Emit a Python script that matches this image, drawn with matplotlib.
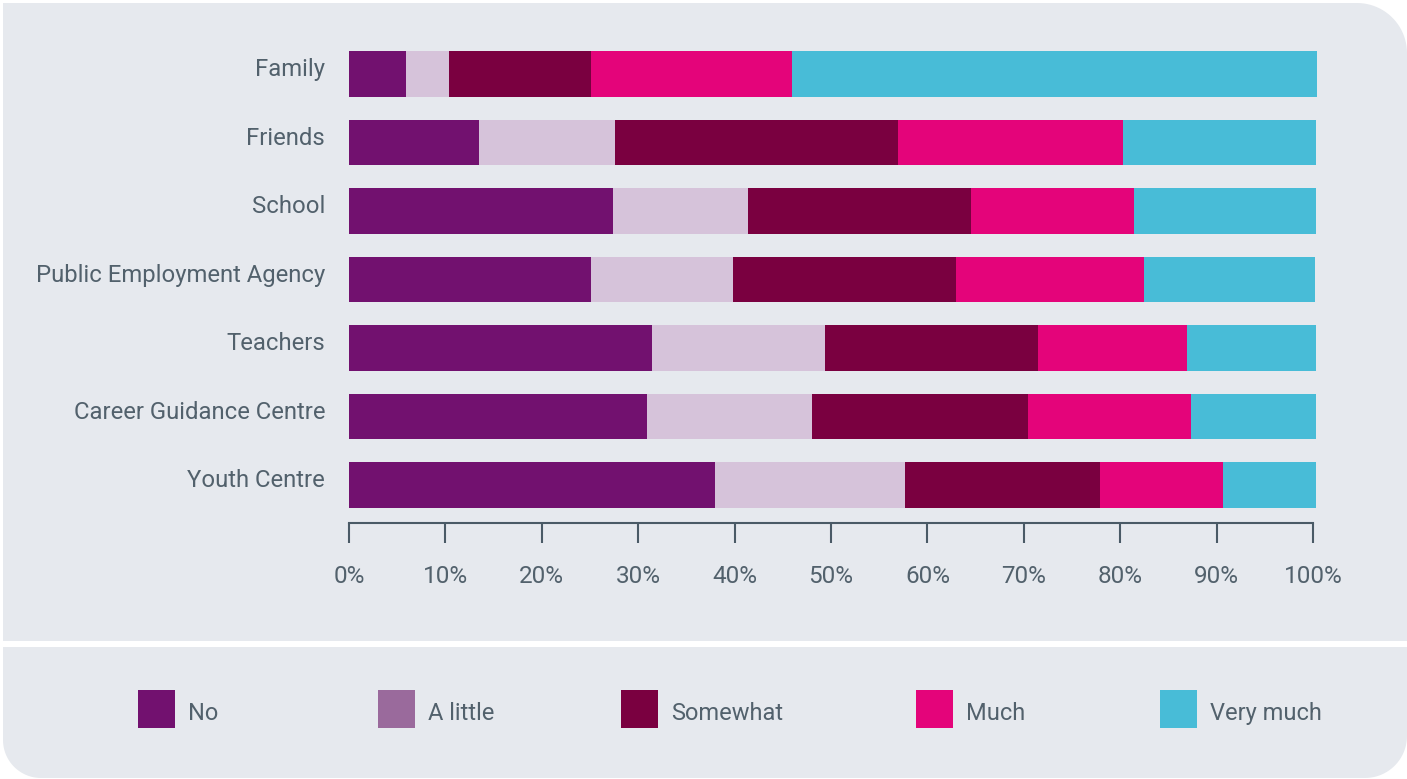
import numpy as np
import matplotlib
matplotlib.use("Agg")
import matplotlib.pyplot as plt
from matplotlib.path import Path
from matplotlib.patches import PathPatch, Rectangle
from matplotlib.transforms import ScaledTranslation

# Survey: how much each source helped with career decisions (% of respondents)
categories = ["Family", "Friends", "School", "Public Employment Agency",
              "Teachers", "Career Guidance Centre", "Youth Centre"]
responses = ["No", "A little", "Somewhat", "Much", "Very much"]

no = [5.9, 13.5, 27.4, 25.1, 31.4, 30.9, 38.0]
a_little = [4.5, 14.1, 14.0, 14.7, 18.0, 17.1, 19.7]
somewhat = [14.7, 29.4, 23.1, 23.2, 22.1, 22.4, 20.2]
much = [20.9, 23.3, 16.9, 19.5, 15.4, 16.9, 12.8]
very_much = [54.4, 20.0, 18.9, 17.7, 13.4, 13.0, 9.6]

xticks = [0, 10, 20, 30, 40, 50, 60, 70, 80, 90, 100]
xtick_labels = [f"{t}%" for t in xticks]

bar_colors = ["#72116F", "#D6C3DA", "#7A0040", "#E4047A", "#48BCD7"]
legend_colors = ["#72116F", "#9A6A9C", "#7A0040", "#E4047A", "#48BCD7"]
panel_color = "#E6E9EE"
text_color = "#52616C"
axis_color = "#4A5A66"

plt.rcParams["font.family"] = ["Roboto", "DejaVu Sans"]

W, H = 1407, 779
fig = plt.figure(figsize=(W / 100, H / 100), dpi=100, facecolor="white")


def fx(x):
    return x / W


def fy(y):
    return 1 - y / H


def panel(x0, y0, x1, y1, r_tl, r_tr, r_br, r_bl):
    """Rectangle (pixel coords, y downward) with individually rounded corners."""

    def arc(cx, cy, r, a0, a1):
        t = np.radians(np.linspace(a0, a1, 24))
        return list(zip(cx + r * np.cos(t), cy - r * np.sin(t)))

    verts = []
    verts += arc(x0 + r_tl, y0 + r_tl, r_tl, 180, 90) if r_tl else [(x0, y0)]
    verts += arc(x1 - r_tr, y0 + r_tr, r_tr, 90, 0) if r_tr else [(x1, y0)]
    verts += arc(x1 - r_br, y1 - r_br, r_br, 0, -90) if r_br else [(x1, y1)]
    verts += arc(x0 + r_bl, y1 - r_bl, r_bl, -90, -180) if r_bl else [(x0, y1)]
    verts.append(verts[0])
    verts = [(fx(x), fy(y)) for x, y in verts]
    codes = [Path.MOVETO] + [Path.LINETO] * (len(verts) - 2) + [Path.CLOSEPOLY]
    patch = PathPatch(Path(verts, codes), facecolor=panel_color,
                      edgecolor="none", transform=fig.transFigure, zorder=0)
    fig.add_artist(patch)


# Chart panel and legend panel
panel(3, 3, W, 641, 0, 50, 0, 0)
panel(3, 647, W, 778, 0, 0, 42, 38)

# Plot area: 0% at x=349 px, 100% at x=1313 px
px_per_pct = 9.64
xmax = 100.5
ax_left, ax_bottom, ax_top = 349, 523, 39.75
ax = fig.add_axes([fx(ax_left), fy(ax_bottom),
                   px_per_pct * xmax / W, (ax_bottom - ax_top) / H])
ax.patch.set_visible(False)

series = [no, a_little, somewhat, much, very_much]
y = np.arange(len(categories))
left = np.zeros(len(categories))
for vals, col, name in zip(series, bar_colors, responses):
    ax.barh(y, vals, left=left, height=0.667, color=col, linewidth=0, label=name)
    left += np.array(vals)

ax.set_xlim(0, xmax)
ax.set_ylim(6.555, -0.5)
ax.set_xticks(xticks)
ax.set_xticklabels(xtick_labels)
ax.set_yticks([])

# Category labels, right-aligned just left of the bars
label_shift = ax.transData + ScaledTranslation(-0.24, 0.04, fig.dpi_scale_trans)
for yi, name in zip(y, categories):
    ax.text(0, yi, name, transform=label_shift, ha="right", va="center",
            fontsize=17.2, color=text_color)

for s in ("top", "right", "left"):
    ax.spines[s].set_visible(False)
ax.spines["bottom"].set_bounds(0, 100)
ax.spines["bottom"].set_color(axis_color)
ax.spines["bottom"].set_linewidth(1.5)

ax.tick_params(axis="x", direction="out", length=14.5, width=1.5,
               color=axis_color, labelcolor=text_color, labelsize=17.5, pad=16)

# Legend row
legend_x = [138, 378, 621, 916, 1160]
for xs, col, name in zip(legend_x, legend_colors, responses):
    fig.add_artist(Rectangle((fx(xs), fy(728)), 37 / W, 38 / H,
                             facecolor=col, edgecolor="none",
                             transform=fig.transFigure, zorder=2))
    fig.text(fx(xs + 50), fy(720), name, fontsize=17, color=text_color,
             ha="left", va="baseline", zorder=3)

fig.savefig("out.png", dpi=100, facecolor="white")
